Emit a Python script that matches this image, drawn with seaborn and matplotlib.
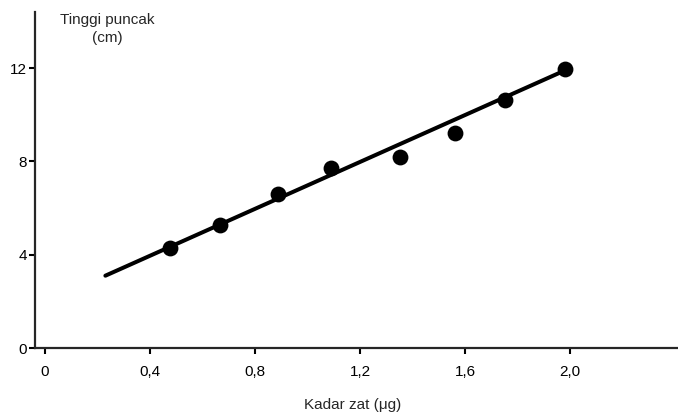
import matplotlib
matplotlib.use("Agg")
import matplotlib.pyplot as plt
import seaborn as sns
import pandas as pd

# data
kadar_zat = [0.475, 0.665, 0.886, 1.09, 1.35, 1.56, 1.75, 1.98]
tinggi_puncak = [4.3, 5.27, 6.6, 7.7, 8.2, 9.23, 10.64, 11.96]

# garis lurus (kurva kalibrasi)
garis_x = [0.23, 1.98]
garis_y = [3.1, 11.9]

x_ticks = [0, 0.4, 0.8, 1.2, 1.6, 2.0]
x_labels = ["0", "0,4", "0,8", "1,2", "1,6", "2,0"]
y_ticks = [0, 4, 8, 12]
y_labels = ["0", "4", "8", "12"]

sns.set_style("ticks")
plt.rcParams["font.family"] = ["Liberation Sans", "DejaVu Sans"]

titik = pd.DataFrame({"x": kadar_zat, "y": tinggi_puncak})
garis = pd.DataFrame({"x": garis_x, "y": garis_y})

fig = plt.figure(figsize=(6.78, 4.15), dpi=100)
ax = fig.add_axes([0.0516, 0.1614, 0.9484, 0.8096])

sns.lineplot(data=garis, x="x", y="y", color="black", linewidth=2.9, ax=ax)
sns.scatterplot(data=titik, x="x", y="y", color="black", s=130,
                edgecolor="black", linewidth=0, zorder=3, ax=ax)

ax.set_xlim(-0.038, 2.41)
ax.set_ylim(0, 14.4)
ax.set_xticks(x_ticks)
ax.set_xticklabels(x_labels)
ax.set_yticks(y_ticks)
ax.set_yticklabels(y_labels)
ax.tick_params(axis="both", labelsize=11, length=4, width=1.5, colors="black")
ax.tick_params(axis="x", pad=8)
ax.tick_params(axis="y", pad=2)

for s in ["top", "right"]:
    ax.spines[s].set_visible(False)
ax.spines["left"].set_linewidth(1.6)
ax.spines["bottom"].set_linewidth(1.6)

ax.set_xlabel("")
ax.set_ylabel("")
fig.text(0.158, 0.93, "Tinggi puncak\n(cm)", ha="center", va="center",
         fontsize=11, linespacing=1.35)
fig.text(0.52, 0.025, "Kadar zat (μg)", ha="center", va="center", fontsize=11)

plt.savefig("out.png", dpi=100)
